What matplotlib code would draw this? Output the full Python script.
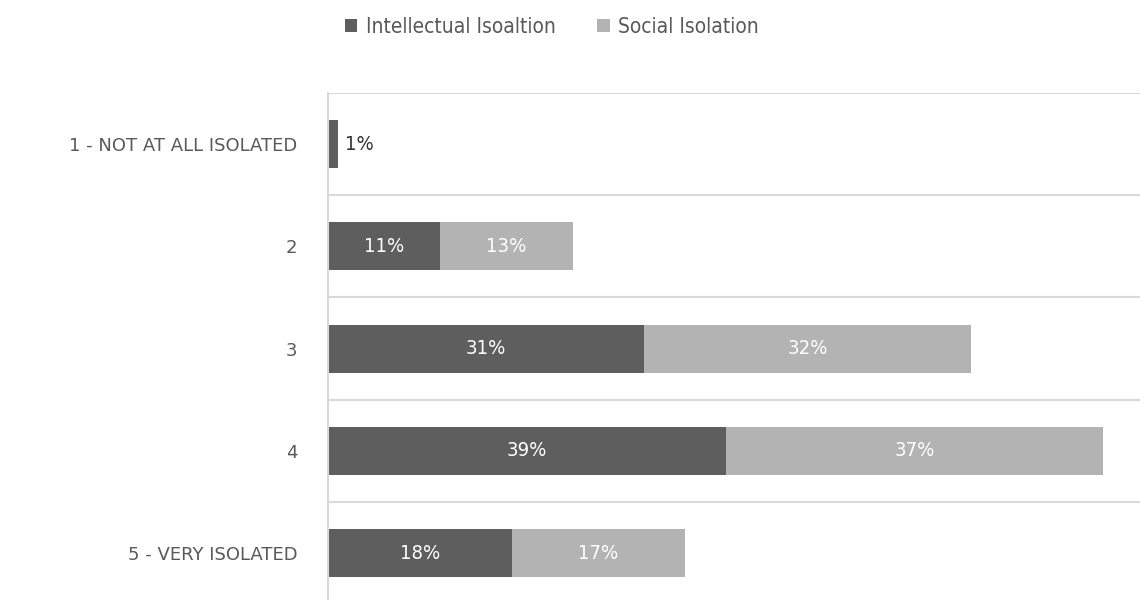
import matplotlib
matplotlib.use("Agg")
import matplotlib.pyplot as plt

categories = ["1 - NOT AT ALL ISOLATED", "2", "3", "4", "5 - VERY ISOLATED"]
intellectual = [1, 11, 31, 39, 18]
social = [0, 13, 32, 37, 17]
series_names = ["Intellectual Isoaltion", "Social Isolation"]

plt.rcParams['font.family'] = ['DejaVu Sans']
plt.rcParams['font.stretch'] = 'condensed'

dark = "#5e5e5e"
light = "#b3b3b3"
txt = "#595959"

fig = plt.figure(figsize=(11.4, 6), dpi=100)
ax = fig.add_axes([0.2877, -0.007, 0.7123, 0.852])

y = list(range(len(categories)))
h = 0.47
b1 = ax.barh(y, intellectual, height=h, color=dark, label=series_names[0])
b2 = ax.barh(y, social, height=h, left=intellectual, color=light, label=series_names[1])

for i, (a, s) in enumerate(zip(intellectual, social)):
    if a >= 5:
        ax.text(a / 2, i, f"{a}%", ha="center", va="center", color="white", fontsize=14.5,
                fontstretch="condensed")
    else:
        ax.text(a + 0.7, i, f"{a}%", ha="left", va="center", color="#333333", fontsize=14.5,
                fontstretch="condensed")
    if s > 0:
        ax.text(a + s / 2, i, f"{s}%", ha="center", va="center", color="white", fontsize=14.5,
                fontstretch="condensed")

ax.set_xlim(0, 79.6)
ax.set_ylim(len(categories) - 0.5, -0.5)
ax.set_yticks(y)
ax.set_yticklabels(categories, fontsize=13, color=txt)
for lab in ax.get_yticklabels():
    lab.set_fontstretch("normal")
ax.tick_params(axis="y", length=0, pad=22)
ax.set_xticks([])
ax.set_yticks([i + 0.5 for i in range(-1, len(categories))], minor=True)
ax.tick_params(axis="y", which="minor", length=0)
ax.grid(axis="y", which="minor", color="#d9d9d9", linewidth=1.5)
ax.set_axisbelow(True)
for side in ["top", "right", "bottom"]:
    ax.spines[side].set_visible(False)
ax.spines["left"].set_color("#d9d9d9")
ax.spines["left"].set_linewidth(1.5)

fig.legend(handles=[b1, b2], labels=series_names, loc="center", bbox_to_anchor=(0.484, 0.955),
           ncol=2, frameon=False, fontsize=15, handlelength=0.6, handleheight=0.6,
           handletextpad=0.4, columnspacing=2.0, labelcolor=txt)

fig.savefig("out.png", dpi=100)
